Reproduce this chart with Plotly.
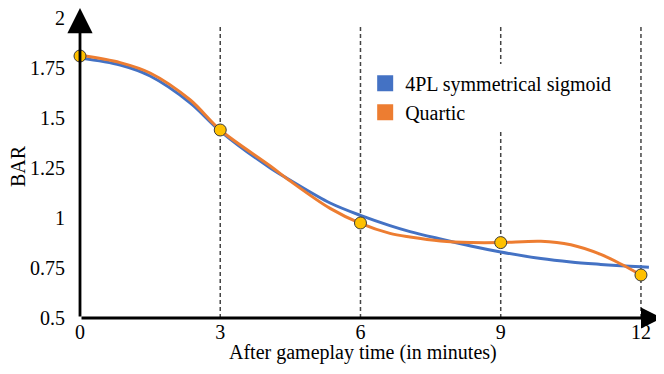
import plotly.graph_objects as go

# Data
sig_x = [0, 0.86, 1.5, 2.36, 3, 4.07, 4.49, 5.35, 6, 6.63, 7.06, 7.71, 8.36, 9, 9.86, 10.5, 11.14, 11.57, 12, 12.17]
sig_y = [1.80, 1.765, 1.71, 1.575, 1.435, 1.25, 1.19, 1.075, 1.013, 0.962, 0.932, 0.895, 0.86, 0.83, 0.797, 0.78, 0.768, 0.761, 0.756, 0.754]

quart_x = [0, 0.86, 1.5, 2.36, 3, 4.07, 4.49, 5.35, 6, 6.63, 7.06, 7.71, 8.36, 9, 9.86, 10.5, 11.14, 11.57, 12]
quart_y = [1.815, 1.777, 1.725, 1.59, 1.44, 1.26, 1.186, 1.048, 0.973, 0.923, 0.905, 0.885, 0.877, 0.877, 0.884, 0.866, 0.818, 0.77, 0.715]

obs_x = [0, 3, 6, 9, 12]
obs_y = [1.81, 1.44, 0.975, 0.877, 0.715]

x_ticks = [0, 3, 6, 9, 12]
y_ticks = [0.5, 0.75, 1, 1.25, 1.5, 1.75, 2]
y_tick_text = ["0.5", "0.75", "1", "1.25", "1.5", "1.75", "2"]
dashed_x = [3, 6, 9, 12]

BLUE = "#4472C4"
ORANGE = "#ED7D31"
FONT = "Liberation Serif, Times New Roman, serif"
FS = 20

fig = go.Figure()

# dashed verticals
for xv in dashed_x:
    fig.add_shape(type="line", x0=xv, x1=xv, y0=0.5, y1=1.965, xref="x", yref="y",
                  line=dict(color="#444444", width=1.5, dash="4px,3px"), layer="below")

fig.add_trace(go.Scatter(x=sig_x, y=sig_y, mode="lines",
                         line=dict(color=BLUE, width=3, shape="spline", smoothing=0.9),
                         showlegend=False))
fig.add_trace(go.Scatter(x=quart_x, y=quart_y, mode="lines",
                         line=dict(color=ORANGE, width=3, shape="spline", smoothing=0.9),
                         showlegend=False))
fig.add_trace(go.Scatter(x=obs_x, y=obs_y, mode="markers",
                         marker=dict(color="#FFC000", size=12, line=dict(color="#3a3a3a", width=1)),
                         showlegend=False, cliponaxis=False))

# legend entries with square swatches
fig.add_trace(go.Scatter(x=[None], y=[None], mode="markers", name="4PL symmetrical sigmoid",
                         marker=dict(symbol="square", size=16, color=BLUE)))
fig.add_trace(go.Scatter(x=[None], y=[None], mode="markers", name="Quartic",
                         marker=dict(symbol="square", size=16, color=ORANGE)))

# axis arrows
fig.add_annotation(x=12.45, y=0.5, ax=0, ay=0.5, xref="x", yref="y", axref="x", ayref="y",
                   text="", showarrow=True, arrowhead=2, arrowsize=1.5, arrowwidth=2.8, arrowcolor="black",
                   standoff=0)
fig.add_annotation(x=0, y=2.05, ax=0, ay=0.5, xref="x", yref="y", axref="x", ayref="y",
                   text="", showarrow=True, arrowhead=2, arrowsize=1.8, arrowwidth=2.8, arrowcolor="black",
                   standoff=0)

# axis titles
fig.add_annotation(text="After gameplay time (in minutes)", x=0.486, xref="paper", y=-34 / 310, yref="paper",
                   xanchor="center", yanchor="middle",
                   showarrow=False, font=dict(family=FONT, size=FS, color="black"))
fig.add_annotation(text="BAR", textangle=-90, x=-62 / 582, xref="paper", y=0.49, yref="paper",
                   xanchor="center", yanchor="middle",
                   showarrow=False, font=dict(family=FONT, size=FS, color="black"))

# page body has an 8px margin, so the figure is 8px smaller and shifted
fig.update_layout(
    width=656, height=366,
    margin=dict(l=72, r=2, t=0, b=56),
    paper_bgcolor="white", plot_bgcolor="white",
    font=dict(family=FONT, size=FS, color="black"),
    legend=dict(x=0.490, y=0.82, xanchor="left", yanchor="top", bgcolor="white",
                font=dict(family=FONT, size=FS), itemwidth=30, tracegroupgap=0),
)

fig.update_xaxes(range=[0, 12.45], tickvals=x_ticks, showgrid=False, zeroline=False, showline=False,
                 ticks="", tickfont=dict(family=FONT, size=FS), automargin=False,
                 ticklabeloverflow="allow")
fig.update_yaxes(range=[0.5, 2.05], tickvals=y_ticks, ticktext=y_tick_text, showgrid=False, zeroline=False,
                 showline=False, ticks="", ticklabelstandoff=14, tickfont=dict(family=FONT, size=FS),
                 automargin=False, ticklabeloverflow="allow")

fig.write_html("out.html")
